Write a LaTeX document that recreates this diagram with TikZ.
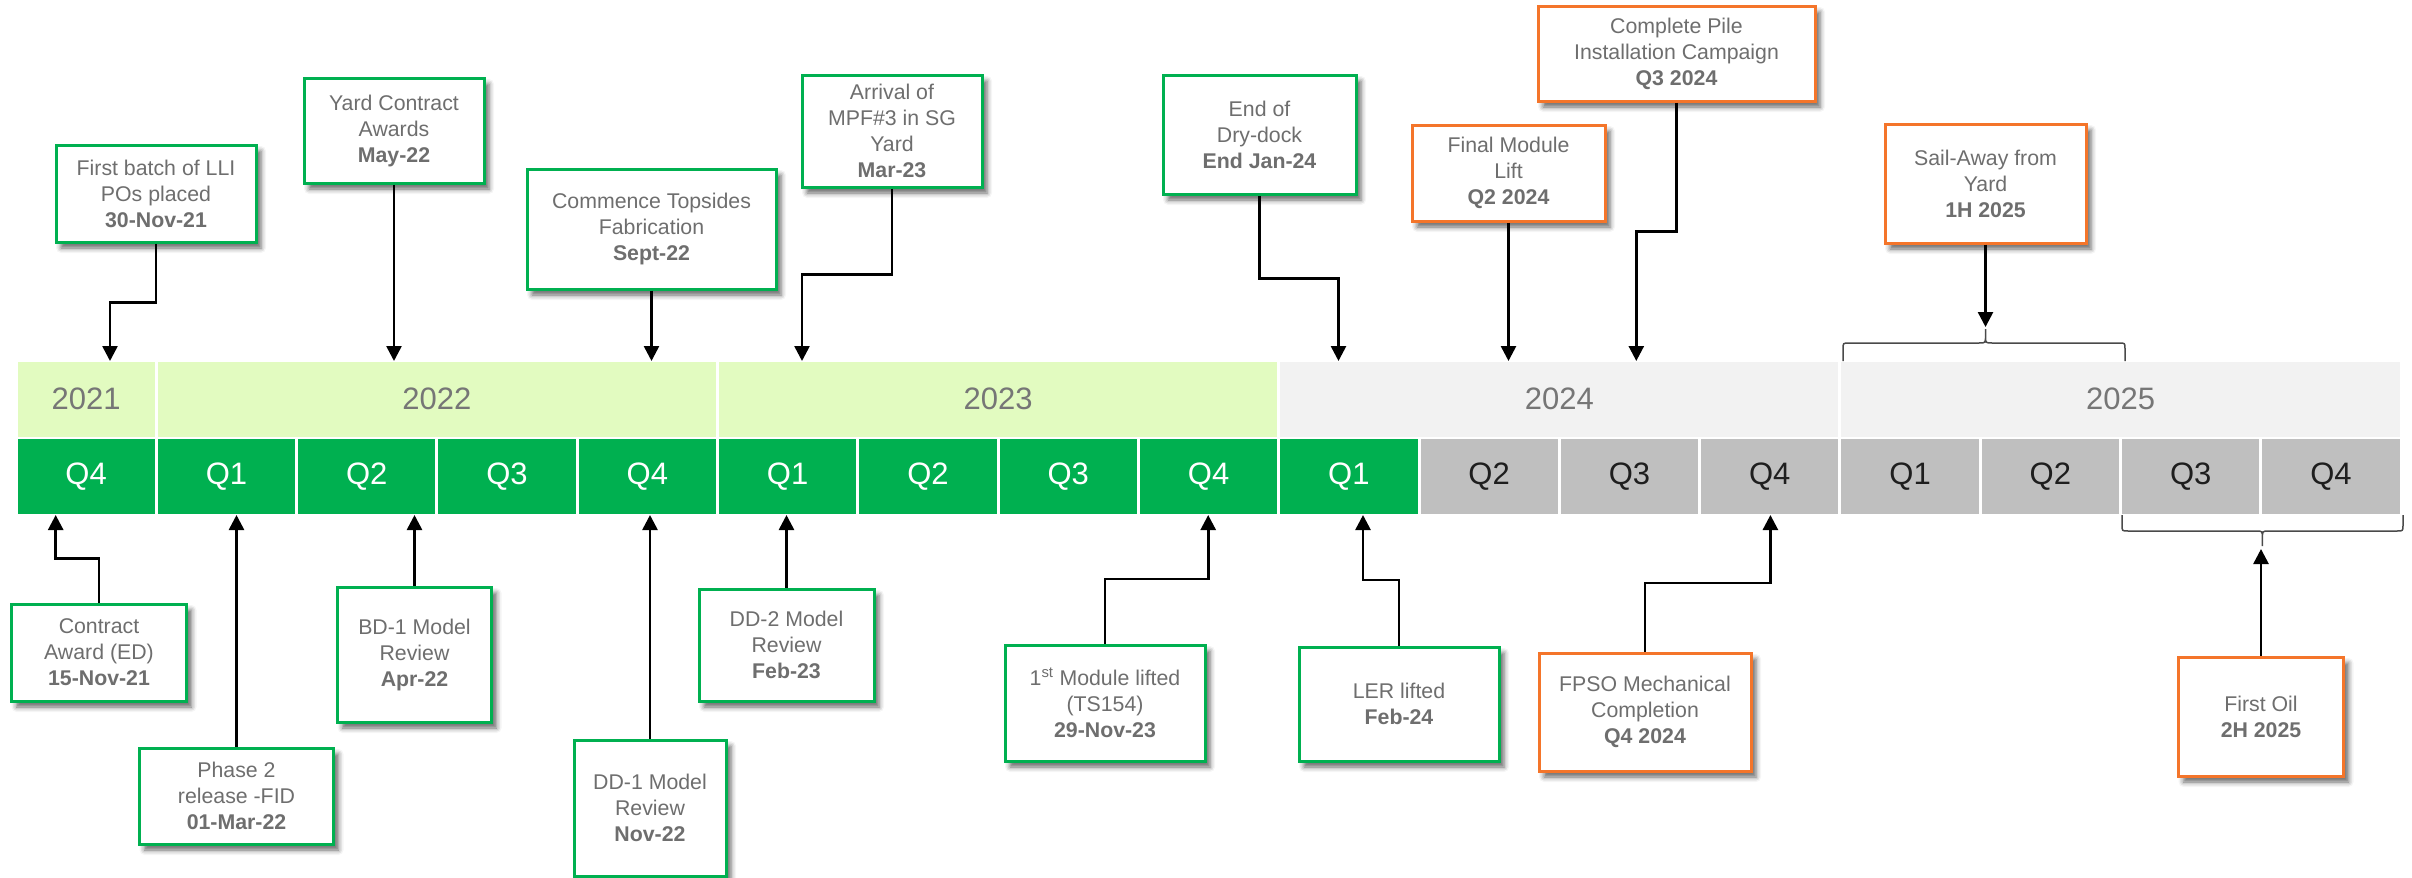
\documentclass[tikz,border=0pt]{standalone}
\usepackage{fontspec}
\setmainfont{Liberation Sans}
\usetikzlibrary{arrows.meta,shadows.blur,calc}

\definecolor{msgreen}{HTML}{00B050}
\definecolor{msorange}{RGB}{244,117,42}
\definecolor{yrgreen}{RGB}{226,251,192}
\definecolor{yrgray}{HTML}{F2F2F2}
\definecolor{qgray}{HTML}{BFBFBF}
\definecolor{yrtext}{HTML}{767676}
\definecolor{boxtext}{HTML}{6E6E6E}
\definecolor{qdark}{HTML}{1E1E1E}
\definecolor{bracecol}{HTML}{4A4A4A}

\begin{document}
\begin{tikzpicture}[x=1pt,y=-1pt,
  evbox/.style={line width=3pt, fill=white, inner sep=0pt, align=center,
    text=boxtext, font=\fontsize{21.3}{26}\selectfont,
    blur shadow={shadow xshift=5pt, shadow yshift=-6pt, shadow blur radius=5pt, shadow opacity=60}},
  evg/.style={evbox, draw=msgreen},
  evo/.style={evbox, draw=msorange},
  cell/.style={inner sep=0pt, minimum height=75pt, font=\fontsize{31}{36}\selectfont},
  ycell/.style={cell, text=yrtext},
  qcell/.style={cell, minimum width=137.3pt},
  arr/.style={line width=2.6pt, -{Triangle[length=15pt,width=15pt]}},
  bracel/.style={line width=1.5pt, draw=bracecol}
]
\useasboundingbox (0,0) rectangle (2412,878);

% ---------- year row ----------
\node[ycell, fill=yrgreen, minimum width=137.3pt] (y21) at (86.15,399) {2021};
\node[ycell, fill=yrgreen, minimum width=558.2pt] (y22) at (436.9,399) {2022};
\node[ycell, fill=yrgreen, minimum width=558.2pt] (y23) at (998.1,399) {2023};
\node[ycell, fill=yrgray,  minimum width=558.2pt] (y24) at (1559.3,399) {2024};
\node[ycell, fill=yrgray,  minimum width=558.2pt] (y25) at (2120.5,399) {2025};

% ---------- quarter row ----------
\foreach \i/\lab/\fc/\tc in {0/Q4/msgreen/white, 1/Q1/msgreen/white, 2/Q2/msgreen/white,
    3/Q3/msgreen/white, 4/Q4/msgreen/white, 5/Q1/msgreen/white, 6/Q2/msgreen/white,
    7/Q3/msgreen/white, 8/Q4/msgreen/white, 9/Q1/msgreen/white, 10/Q2/qgray/qdark,
    11/Q3/qgray/qdark, 12/Q4/qgray/qdark, 13/Q1/qgray/qdark, 14/Q2/qgray/qdark,
    15/Q3/qgray/qdark, 16/Q4/qgray/qdark}{
  \node[qcell, fill=\fc, text=\tc] (q\i) at ({16+140.3*(\i+0.5)},476.5) {\lab};
}

\coordinate (ytop) at (0,361);
\coordinate (qbot) at (0,515);

% ---------- milestones above the timeline ----------
\node[evg, minimum width=200pt, minimum height=97pt] (lli) at (156,193.5)
  {First batch of LLI\\POs placed\\\textbf{30-Nov-21}};
\node[evg, minimum width=180pt, minimum height=105pt] (yard) at (394,130.5)
  {Yard Contract\\Awards\\\textbf{May-22}};
\node[evg, minimum width=249pt, minimum height=120pt] (tops) at (651.5,229)
  {Commence Topsides\\Fabrication\\\textbf{Sept-22}};
\node[evg, minimum width=180pt, minimum height=112pt] (mpf) at (892,131)
  {Arrival of\\MPF\#3 in SG\\Yard\\\textbf{Mar-23}};
\node[evg, minimum width=193pt, minimum height=119pt] (dry) at (1259.5,134.5)
  {End of\\Dry-dock\\\textbf{End Jan-24}};
\node[evo, minimum width=193pt, minimum height=96pt] (final) at (1508.5,173)
  {Final Module\\Lift\\\textbf{Q2 2024}};
\node[evo, minimum width=277pt, minimum height=95pt] (pile) at (1676.5,53.5)
  {Complete Pile\\Installation Campaign\\\textbf{Q3 2024}};
\node[evo, minimum width=201pt, minimum height=119pt] (sail) at (1985.5,183.5)
  {Sail-Away from\\Yard\\\textbf{1H 2025}};

% ---------- milestones below the timeline ----------
\node[evg, minimum width=175pt, minimum height=97pt] (award) at (99,652.5)
  {Contract\\Award (ED)\\\textbf{15-Nov-21}};
\node[evg, minimum width=194pt, minimum height=96pt] (fid) at (236.5,796)
  {Phase 2\\release -FID\\\textbf{01-Mar-22}};
\node[evg, minimum width=154pt, minimum height=135pt] (bd1) at (414.5,654.5)
  {BD-1 Model\\Review\\\textbf{Apr-22}};
\node[evg, minimum width=152pt, minimum height=136pt] (dd1) at (650,808)
  {DD-1 Model\\Review\\\textbf{Nov-22}};
\node[evg, minimum width=175pt, minimum height=112pt] (dd2) at (786.5,645)
  {DD-2 Model\\Review\\\textbf{Feb-23}};
\node[evg, minimum width=200pt, minimum height=116pt] (mod1) at (1105,703)
  {1\textsuperscript{st} Module lifted\\(TS154)\\\textbf{29-Nov-23}};
\node[evg, minimum width=200pt, minimum height=114pt] (ler) at (1399,704)
  {LER lifted\\\textbf{Feb-24}};
\node[evo, minimum width=212pt, minimum height=118pt] (fpso) at (1645,712)
  {FPSO Mechanical\\Completion\\\textbf{Q4 2024}};
\node[evo, minimum width=165pt, minimum height=119pt] (oil) at (2261,716.5)
  {First Oil\\\textbf{2H 2025}};

% ---------- arrow targets on the timeline ----------
\coordinate (t-lli)  at (110,361);
\coordinate (t-mpf)  at (802,361);
\coordinate (t-dry)  at (1338.5,361);
\coordinate (t-pile) at (1636.3,361);
\coordinate (t-sail) at (1985.5,327);
\coordinate (b-award) at (55.7,515);
\coordinate (b-mod1) at (1208.2,515);
\coordinate (b-ler)  at (1363,515);
\coordinate (b-fpso) at (1770.4,515);
\coordinate (b-oil)  at (2261,549);

% ---------- connectors ----------
\draw[arr] (lli.south) -- ++(0,59) -| (t-lli);
\draw[arr] (yard.south) -- (yard.south |- ytop);
\draw[arr] (tops.south) -- (tops.south |- ytop);
\draw[arr] (mpf.south) -- ++(0,86) -| (t-mpf);
\draw[arr] (dry.south) -- ++(0,82.7) -| (t-dry);
\draw[arr] (final.south) -- (final.south |- ytop);
\draw[arr] (pile.south) -- ++(0,129) -| (t-pile);
\draw[arr] (sail.south) -- (t-sail);

\draw[arr] (award.north) -- ++(0,-44) -| (b-award);
\draw[arr] (fid.north) -- (fid.north |- qbot);
\draw[arr] (bd1.north) -- (bd1.north |- qbot);
\draw[arr] (dd1.north) -- (dd1.north |- qbot);
\draw[arr] (dd2.north) -- (dd2.north |- qbot);
\draw[arr] (mod1.north) -- ++(0,-64.7) -| (b-mod1);
\draw[arr] (ler.north) -- ++(0,-65.7) -| (b-ler);
\draw[arr] (fpso.north) -- ++(0,-68.7) -| (b-fpso);
\draw[arr] (oil.north) -- (b-oil);

% ---------- braces ----------
\draw[bracel] (1843,361) -- (1843,349) .. controls (1843,343) .. (1849,343)
  -- (1979,343) .. controls (1985.5,343) .. (1985.5,336) -- (1985.5,329)
  -- (1985.5,336) .. controls (1985.5,343) .. (1992,343)
  -- (2119,343) .. controls (2125,343) .. (2125,349) -- (2125,361);
\draw[bracel] (2122,515) -- (2122,525) .. controls (2122,531) .. (2128,531)
  -- (2256,531) .. controls (2262.4,531) .. (2262.4,538) -- (2262.4,546)
  -- (2262.4,538) .. controls (2262.4,531) .. (2269,531)
  -- (2397,531) .. controls (2403,531) .. (2403,525) -- (2403,515);
\end{tikzpicture}
\end{document}
